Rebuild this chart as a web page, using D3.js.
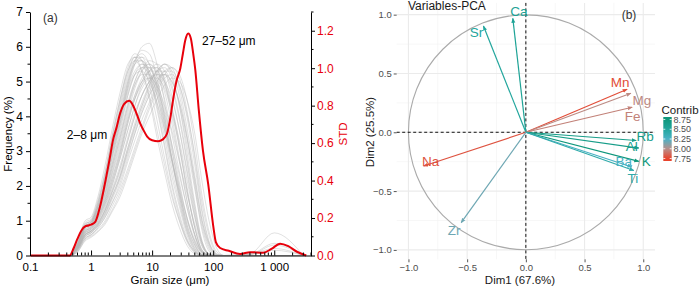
<!DOCTYPE html>
<html><head><meta charset="utf-8">
<script src="https://cdn.jsdelivr.net/npm/d3@7"></script>
<style>
body{margin:0;background:#fff;}
svg{display:block;font-family:"Liberation Sans",Arial,sans-serif;}
</style></head>
<body>
<svg id="chart" width="700" height="286"></svg>
<script>
// ---------- Panel (a) data ----------
const grainSizes = [0.45, 0.6, 0.8, 1, 1.3, 1.7, 2.2, 3, 4, 5.2, 6.8, 9, 12, 16, 21, 28, 37, 50, 66, 88, 115, 150, 400, 1000, 3000];
const sampleCurves = [
  [0,0.3,0.8,0.9,1.3,2.0,2.8,3.8,4.8,5.5,6.0,6.1,5.5,4.4,3.1,1.9,0.9,0.3,0.03,0,0,0,0,0,0],
  [0,0.35,0.9,1.0,1.5,2.3,3.2,4.3,5.2,5.7,5.6,5.1,4.2,3.1,2.0,1.1,0.45,0.1,0,0,0,0,0,0,0],
  [0,0.3,0.85,0.95,1.45,2.2,3.1,4.2,5.1,5.6,5.6,5.2,4.4,3.4,2.3,1.4,0.6,0.15,0,0,0,0,0,0,0],
  [0,0.25,0.75,0.85,1.2,1.8,2.5,3.4,4.3,5.0,5.4,5.4,5.0,4.2,3.2,2.1,1.1,0.35,0.03,0,0,0,0,0,0],
  [0,0.3,0.8,0.9,1.3,1.9,2.6,3.6,4.6,5.2,5.5,5.3,4.7,3.8,2.8,1.8,0.9,0.3,0.02,0,0,0,0,0,0],
  [0,0.2,0.65,0.75,1.05,1.5,2.1,2.9,3.8,4.5,5.0,5.3,5.4,5.1,4.3,3.2,2.0,0.8,0.15,0,0,0,0,0,0],
  [0,0.2,0.6,0.7,0.95,1.35,1.9,2.6,3.4,4.1,4.6,5.0,5.2,5.2,4.8,3.9,2.7,1.3,0.35,0.02,0,0,0,0,0],
  [0,0.25,0.7,0.8,1.1,1.6,2.2,3.0,3.9,4.5,4.9,5.1,5.1,4.8,4.1,3.1,1.9,0.8,0.15,0,0,0,0,0,0],
  [0,0.35,0.95,1.05,1.6,2.4,3.4,4.5,5.3,5.6,5.3,4.6,3.6,2.6,1.7,1.0,0.45,0.12,0,0,0,0,0,0,0],
  [0,0.3,0.85,0.95,1.4,2.1,2.9,3.9,4.8,5.3,5.5,5.4,4.9,4.0,3.0,2.0,1.1,0.4,0.06,0,0,0,0,0,0],
  [0,0.15,0.55,0.65,0.85,1.2,1.7,2.3,3.1,3.8,4.4,4.9,5.3,5.5,5.2,4.3,3.0,1.5,0.4,0.03,0,0,0,0,0],
  [0,0.2,0.6,0.7,0.9,1.3,1.8,2.5,3.3,4.0,4.6,5.0,5.3,5.3,4.9,4.0,2.8,1.4,0.4,0.03,0,0,0,0,0],
  [0,0.3,0.8,0.9,1.3,2.0,2.8,3.8,4.7,5.2,5.3,5.0,4.4,3.6,2.7,1.8,1.0,0.4,0.08,0,0,0,0.05,0.65,0],
  [0,0.25,0.75,0.85,1.2,1.75,2.5,3.4,4.3,4.9,5.2,5.2,4.8,4.1,3.2,2.3,1.4,0.6,0.12,0,0,0,0,0,0],
  [0,0.3,0.85,0.95,1.4,2.1,3.0,4.0,5.0,5.6,5.8,5.5,4.8,3.8,2.7,1.7,0.8,0.25,0.02,0,0,0,0,0,0],
  [0,0.25,0.7,0.8,1.15,1.7,2.4,3.3,4.2,4.9,5.3,5.5,5.3,4.7,3.8,2.7,1.6,0.6,0.1,0,0,0,0,0,0],
  [0,0.2,0.65,0.75,1.0,1.45,2.0,2.8,3.6,4.3,4.8,5.1,5.2,5.0,4.5,3.6,2.5,1.2,0.3,0.02,0,0,0.03,0.35,0],
  [0,0.35,0.9,1.0,1.5,2.3,3.3,4.4,5.3,5.7,5.7,5.2,4.3,3.2,2.1,1.2,0.5,0.12,0,0,0,0,0,0,0],
  [0,0.25,0.7,0.8,1.1,1.6,2.3,3.1,4.0,4.6,5.0,5.1,4.9,4.3,3.6,2.7,1.8,0.9,0.25,0.02,0,0,0,0,0],
  [0,0.3,0.8,0.9,1.25,1.9,2.7,3.7,4.6,5.2,5.4,5.2,4.6,3.7,2.8,1.9,1.1,0.45,0.08,0,0,0,0,0,0],
  [0,0.15,0.5,0.6,0.8,1.1,1.5,2.1,2.8,3.5,4.1,4.6,5.0,5.2,5.0,4.4,3.4,2.0,0.7,0.1,0,0,0,0,0],
  [0,0.3,0.85,0.95,1.4,2.1,3.0,4.1,5.0,5.5,5.6,5.3,4.6,3.6,2.5,1.5,0.7,0.2,0.02,0,0,0,0.04,0.2,0],
  [0,0.15,0.5,0.6,0.8,1.1,1.5,2.0,2.7,3.3,3.9,4.4,4.9,5.3,5.4,5.1,4.2,2.8,1.3,0.35,0.03,0,0,0,0],
  [0,0.1,0.45,0.55,0.7,0.95,1.3,1.8,2.4,3.0,3.6,4.2,4.7,5.1,5.2,4.9,4.1,2.9,1.5,0.5,0.05,0,0,0,0],
  [0,0.2,0.6,0.7,0.95,1.3,1.8,2.4,3.1,3.7,4.3,4.8,5.2,5.5,5.4,4.8,3.7,2.3,1.0,0.25,0.02,0,0,0,0],
  [0,0.15,0.55,0.65,0.85,1.15,1.6,2.2,2.9,3.5,4.1,4.6,5.0,5.3,5.3,4.9,4.0,2.6,1.2,0.3,0.02,0,0.02,0.3,0],
  [0,0.12,0.48,0.58,0.75,1.0,1.4,1.9,2.5,3.1,3.7,4.3,4.8,5.2,5.4,5.2,4.5,3.2,1.7,0.6,0.1,0,0,0,0],
  [0,0.2,0.6,0.7,0.9,1.25,1.7,2.3,3.0,3.7,4.3,4.9,5.3,5.5,5.3,4.6,3.5,2.1,0.9,0.2,0,0,0,0,0],
  [0,0.18,0.55,0.65,0.88,1.2,1.65,2.25,3.0,3.6,4.2,4.7,5.1,5.2,5.0,4.4,3.4,2.2,1.0,0.3,0.03,0,0,0,0],
  [0,0.1,0.42,0.52,0.68,0.9,1.25,1.7,2.3,2.9,3.5,4.0,4.5,4.9,5.1,5.0,4.5,3.5,2.1,0.9,0.2,0,0,0,0],
  [0,0.4,1.0,1.1,1.7,2.6,3.6,4.7,5.5,5.7,5.3,4.5,3.4,2.4,1.5,0.8,0.3,0.05,0,0,0,0,0,0,0],
  [0,0.35,0.9,1.0,1.55,2.4,3.4,4.5,5.4,5.8,5.6,4.9,3.9,2.8,1.8,1.0,0.4,0.08,0,0,0,0,0,0,0],
  [0,0.3,0.85,0.95,1.4,2.1,3.0,4.0,4.9,5.5,5.7,5.5,4.9,3.9,2.8,1.7,0.8,0.2,0,0,0,0,0,0,0],
  [0,0.28,0.8,0.9,1.35,2.0,2.9,3.9,4.9,5.6,5.9,5.8,5.1,4.0,2.8,1.6,0.7,0.15,0,0,0,0,0,0,0],
  [0,0.22,0.68,0.78,1.1,1.55,2.2,3.0,3.9,4.6,5.1,5.4,5.4,5.0,4.2,3.1,1.9,0.8,0.15,0,0,0,0,0,0],
  [0,0.25,0.72,0.82,1.15,1.65,2.35,3.2,4.1,4.8,5.3,5.6,5.5,5.0,4.0,2.8,1.6,0.6,0.1,0,0,0,0,0,0],
  [0,0.2,0.62,0.72,1.0,1.4,2.0,2.8,3.6,4.3,4.9,5.3,5.5,5.3,4.6,3.6,2.4,1.1,0.3,0.02,0,0,0,0,0],
  [0,0.28,0.78,0.88,1.25,1.8,2.6,3.5,4.4,5.0,5.4,5.5,5.2,4.5,3.5,2.4,1.4,0.55,0.1,0,0,0,0.03,0.15,0],
  [0,0.22,0.65,0.75,1.05,1.5,2.1,2.9,3.8,4.5,5.0,5.3,5.3,4.9,4.2,3.3,2.2,1.1,0.35,0.04,0,0,0,0,0],
  [0,0.18,0.58,0.68,0.92,1.3,1.85,2.5,3.3,4.0,4.6,5.0,5.3,5.4,5.1,4.3,3.2,1.9,0.8,0.15,0,0,0,0,0]
];
const stdSizes = [0.1,0.45,0.52,0.6,0.7,0.8,0.9,1.0,1.17,1.4,1.7,2.0,2.3,2.6,3.0,3.5,4.2,4.9,5.6,6.3,7.2,8.3,10,12.5,15,17.5,20,22,25,29,32,35,39,43,47,51,58,68,83,100,111,130,180,276,404,660,900,1250,1700,2355,3350];
const stdValues = [0,0,0.04,0.09,0.135,0.155,0.16,0.165,0.18,0.26,0.39,0.51,0.62,0.68,0.76,0.81,0.826,0.8,0.755,0.71,0.67,0.635,0.615,0.61,0.62,0.65,0.74,0.83,0.93,1.0,1.08,1.15,1.185,1.16,1.08,0.99,0.78,0.56,0.38,0.16,0.07,0.04,0.025,0.008,0.018,0.015,0.035,0.063,0.05,0.02,0];
const xTickValues = [0.1, 1, 10, 100, 1000];
const xTickLabels = ["0.1", "1", "10", "100", "1 000"];
const freqTicks = [0,1,2,3,4,5,6,7];
const stdTicks = [0,0.2,0.4,0.6,0.8,1.0,1.2];

// ---------- Panel (b) data ----------
const variables = ["Ca","Sr","Mn","Mg","Fe","Rb","Al","K","Ba","Ti","Na","Zr"];
const dim1 = [-0.111,-0.361,0.863,0.895,0.906,0.94,0.962,0.962,0.903,0.92,-0.871,-0.551];
const dim2 = [0.969,0.904,0.366,0.332,0.213,-0.07,-0.134,-0.248,-0.295,-0.325,-0.287,-0.769];
const contrib = [8.55,8.5,7.78,7.98,7.95,8.65,8.65,8.75,8.27,8.42,7.8,8.17];
const pcaTicks = [-1.0,-0.5,0.0,0.5,1.0];
const legendTicks = [7.75,8.0,8.25,8.5,8.75];

// label nudges (px) for the repelled variable labels
const labelNudge = {Ca:[6,-7],Sr:[-7,6.5],Mn:[-7,-7],Mg:[11,7],Fe:[0.5,9],Rb:[9,-4],Al:[-7,-1.5],K:[7.5,0],Ba:[-8,-5],Ti:[-1,7.5],Na:[7,-5],Zr:[-7,8]};

const svg = d3.select("#chart");
const defs = svg.append("defs");

// ================= Panel (a) =================
const xL = d3.scaleLog().domain([0.1, 4000]).range([30, 311]);
const yF = d3.scaleLinear().domain([0, 7]).range([255.5, 12]);
const yS = d3.scaleLinear().domain([0, 1.3]).range([255.5, 12]);

const gA = svg.append("g");
const grayLine = d3.line().x((d,i)=>xL(grainSizes[i])).y(d=>yF(d)).curve(d3.curveMonotoneX);
gA.append("g").selectAll("path").data(sampleCurves).join("path")
  .attr("d", grayLine).attr("fill","none").attr("stroke","#b4b4b4")
  .attr("stroke-opacity",0.5).attr("stroke-width",0.8);

const redLine = d3.line().x((d,i)=>xL(stdSizes[i])).y(d=>yS(d)).curve(d3.curveMonotoneX);
gA.append("path").datum(stdValues).attr("d", redLine).attr("fill","none")
  .attr("stroke","#e8000b").attr("stroke-width",2);

const xMinor = [];
[0.1,1,10,100,1000].forEach(b=>{for(let k=2;k<=9;k++){const v=b*k; if(v<=4000) xMinor.push(v);}});
const xAxis = d3.axisBottom(xL).tickValues(xTickValues).tickFormat((d,i)=>xTickLabels[i]).tickSizeInner(-5).tickSizeOuter(0).tickPadding(7);
const gx = gA.append("g").attr("transform","translate(0,255.5)").call(xAxis);
gx.selectAll("line").attr("stroke","#000");
gx.append("g").selectAll("line").data(xMinor).join("line")
  .attr("x1",d=>xL(d)).attr("x2",d=>xL(d)).attr("y1",0).attr("y2",-3).attr("stroke","#000");
gx.select(".domain").attr("stroke","#000");
gx.selectAll("text").attr("font-size","11.5px").attr("fill","#000").attr("font-family","Liberation Sans, Arial");

const yAxisL = d3.axisLeft(yF).tickValues(freqTicks).tickFormat(d3.format("d")).tickSizeInner(4).tickSizeOuter(0).tickPadding(3);
const gyl = gA.append("g").attr("transform","translate(30,0)").call(yAxisL);
gyl.append("g").selectAll("line").data(d3.range(0.5,7,1)).join("line")
  .attr("x1",0).attr("x2",-2.5).attr("y1",d=>yF(d)).attr("y2",d=>yF(d)).attr("stroke","#000");
gyl.selectAll("text").attr("font-size","12px").attr("fill","#000").attr("font-family","Liberation Sans, Arial");

const yAxisR = d3.axisRight(yS).tickValues(stdTicks).tickFormat(d3.format(".1f")).tickSizeInner(4).tickSizeOuter(0).tickPadding(2);
const gyr = gA.append("g").attr("transform","translate(311,0)").call(yAxisR);
gyr.append("g").selectAll("line").data(d3.range(0.1,1.35,0.2)).join("line")
  .attr("x1",0).attr("x2",2.5).attr("y1",d=>yS(d)).attr("y2",d=>yS(d)).attr("stroke","#000");
gyr.selectAll("text").attr("font-size","12px").attr("fill","#e8000b").attr("font-family","Liberation Sans, Arial");

gA.append("text").attr("x",43).attr("y",22).attr("font-size","12px").attr("fill","#333").text("(a)");
gA.append("text").attr("x",87).attr("y",139).attr("text-anchor","middle").attr("font-size","12px").attr("fill","#000").text("2–8 μm");
gA.append("text").attr("x",202).attr("y",45).attr("font-size","12px").attr("fill","#000").text("27–52 μm");
gA.append("text").attr("x",170).attr("y",283.5).attr("text-anchor","middle").attr("font-size","11.5px").attr("fill","#000").text("Grain size (μm)");
gA.append("text").attr("transform","translate(12,134) rotate(-90)").attr("text-anchor","middle").attr("font-size","11.5px").attr("fill","#000").text("Frequency (%)");
gA.append("text").attr("transform","translate(347,134) rotate(-90)").attr("text-anchor","middle").attr("font-size","11.5px").attr("fill","#e8000b").text("STD");

// ================= Panel (b) =================
const xP = d3.scaleLinear().domain([-1.1, 1.1]).range([396.7, 655]);
const yP = d3.scaleLinear().domain([-1.08, 1.1]).range([259.3, 2.9]);
const color = d3.scaleLinear().domain([7.75,8.0,8.25,8.5,8.75])
  .range(["#e8442d","#b8908b","#4bb2c6","#22a69d","#0f977c"]).clamp(true);

const gB = svg.append("g");
const minor = [-0.75,-0.25,0.25,0.75];
gB.append("g").selectAll("line").data(minor).join("line")
  .attr("x1",d=>xP(d)).attr("x2",d=>xP(d)).attr("y1",yP.range()[1]).attr("y2",yP.range()[0])
  .attr("stroke","#f2f2f2").attr("stroke-width",0.6);
gB.append("g").selectAll("line").data(minor).join("line")
  .attr("y1",d=>yP(d)).attr("y2",d=>yP(d)).attr("x1",xP.range()[0]).attr("x2",xP.range()[1])
  .attr("stroke","#f2f2f2").attr("stroke-width",0.6);
gB.append("g").selectAll("line").data(pcaTicks).join("line")
  .attr("x1",d=>xP(d)).attr("x2",d=>xP(d)).attr("y1",yP.range()[1]).attr("y2",yP.range()[0])
  .attr("stroke","#ebebeb").attr("stroke-width",1.1);
gB.append("g").selectAll("line").data(pcaTicks).join("line")
  .attr("y1",d=>yP(d)).attr("y2",d=>yP(d)).attr("x1",xP.range()[0]).attr("x2",xP.range()[1])
  .attr("stroke","#ebebeb").attr("stroke-width",1.1);

const axB = d3.axisBottom(xP).tickValues(pcaTicks).tickFormat(d3.format(".1f")).tickSizeInner(3).tickSizeOuter(0).tickPadding(2);
const gbx = gB.append("g").attr("transform",`translate(0,${yP.range()[0]})`).call(axB);
gbx.select(".domain").remove();
gbx.selectAll("line").attr("stroke","#555");
gbx.selectAll("text").attr("font-size","9.5px").attr("fill","#4d4d4d").attr("font-family","Liberation Sans, Arial");
const ayB = d3.axisLeft(yP).tickValues(pcaTicks).tickFormat(d3.format(".1f")).tickSizeInner(3).tickSizeOuter(0).tickPadding(2);
const gby = gB.append("g").attr("transform",`translate(${xP.range()[0]},0)`).call(ayB);
gby.select(".domain").remove();
gby.selectAll("line").attr("stroke","#555");
gby.selectAll("text").attr("font-size","9.5px").attr("fill","#4d4d4d").attr("font-family","Liberation Sans, Arial");

gB.append("circle").attr("cx",xP(0)).attr("cy",yP(0)).attr("r",xP(1)-xP(0))
  .attr("fill","none").attr("stroke","#aaaaaa").attr("stroke-width",1.1);

gB.append("line").attr("x1",xP(0)).attr("x2",xP(0)).attr("y1",yP.range()[1]).attr("y2",yP.range()[0])
  .attr("stroke","#111").attr("stroke-dasharray","3,2.5").attr("stroke-width",1);
gB.append("line").attr("y1",yP(0)).attr("y2",yP(0)).attr("x1",xP.range()[0]).attr("x2",xP.range()[1])
  .attr("stroke","#111").attr("stroke-dasharray","3,2.5").attr("stroke-width",1);

variables.forEach((v,i)=>{
  defs.append("marker").attr("id","arr"+v).attr("viewBox","0 0 10 10").attr("refX",9).attr("refY",5)
    .attr("markerWidth",5).attr("markerHeight",5).attr("markerUnits","userSpaceOnUse").attr("orient","auto")
    .append("path").attr("d","M0,1 L10,5 L0,9 Z").attr("fill",color(contrib[i]));
});
const idx = d3.range(variables.length);
gB.append("g").selectAll("line").data(idx).join("line")
  .attr("x1",xP(0)).attr("y1",yP(0)).attr("x2",i=>xP(dim1[i])).attr("y2",i=>yP(dim2[i]))
  .attr("stroke",i=>color(contrib[i])).attr("stroke-width",1.2)
  .attr("marker-end",i=>`url(#arr${variables[i]})`);
gB.append("g").selectAll("text").data(idx).join("text")
  .attr("x",i=>xP(dim1[i])+labelNudge[variables[i]][0])
  .attr("y",i=>yP(dim2[i])+labelNudge[variables[i]][1])
  .attr("text-anchor","middle").attr("dominant-baseline","central")
  .attr("font-size","13.5px").attr("fill",i=>color(contrib[i])).text(i=>variables[i]);

gB.append("text").attr("x",408).attr("y",10).attr("font-size","12px").attr("fill","#1a1a1a").text("Variables-PCA");
gB.append("text").attr("x",629).attr("y",18.5).attr("text-anchor","middle").attr("font-size","12px").attr("fill","#333").text("(b)");
gB.append("text").attr("x",520).attr("y",284).attr("text-anchor","middle").attr("font-size","11.5px").attr("fill","#1a1a1a").text("Dim1 (67.6%)");
gB.append("text").attr("transform","translate(374,132) rotate(-90)").attr("text-anchor","middle").attr("font-size","11.5px").attr("fill","#1a1a1a").text("Dim2 (25.5%)");

const yLeg = d3.scaleLinear().domain([7.75,8.75]).range([158.5,119.5]);
const grad = defs.append("linearGradient").attr("id","legGrad").attr("x1",0).attr("x2",0).attr("y1",1).attr("y2",0);
const legLo = yLeg.invert(161), legHi = yLeg.invert(117);
d3.range(0,1.0001,0.05).forEach(t=>{
  const v = legLo + t*(legHi-legLo);
  grad.append("stop").attr("offset",t).attr("stop-color",color(v));
});
gB.append("rect").attr("x",663.3).attr("y",yLeg(legHi)).attr("width",8.4).attr("height",yLeg(legLo)-yLeg(legHi)).attr("fill","url(#legGrad)");
gB.append("g").selectAll("line").data(legendTicks).join("line")
  .attr("x1",663.3).attr("x2",665.3).attr("y1",d=>yLeg(d)).attr("y2",d=>yLeg(d)).attr("stroke","#fff").attr("stroke-width",0.8);
gB.append("g").selectAll("line").data(legendTicks).join("line")
  .attr("x1",669.7).attr("x2",671.7).attr("y1",d=>yLeg(d)).attr("y2",d=>yLeg(d)).attr("stroke","#fff").attr("stroke-width",0.8);
gB.append("g").selectAll("text").data(legendTicks).join("text")
  .attr("x",673.5).attr("y",d=>yLeg(d)).attr("dominant-baseline","central")
  .attr("font-size","9px").attr("fill","#4d4d4d").text(d=>d3.format(".2f")(d));
gB.append("text").attr("x",661.5).attr("y",114).attr("font-size","11.5px").attr("fill","#1a1a1a").text("Contrib");
</script>
</body></html>
